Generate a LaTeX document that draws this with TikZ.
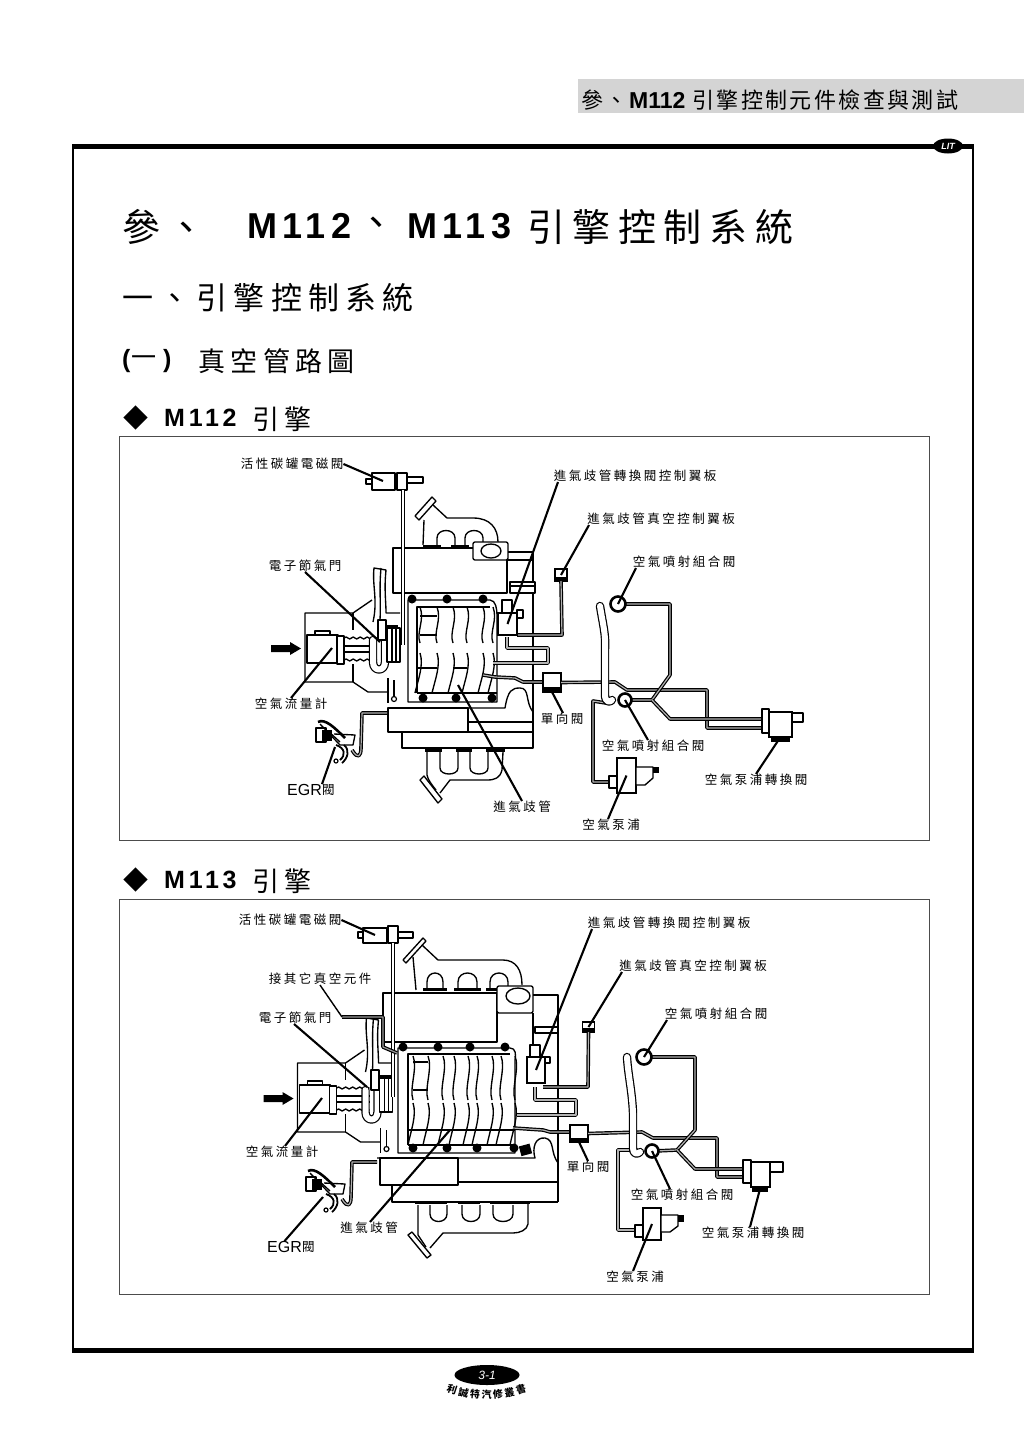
\documentclass[tikz,border=0pt]{standalone}
\usepackage{fontspec}
\setmainfont{Liberation Sans}
\newfontfamily\cjkhead[LetterSpace=11]{Noto Sans CJK TC}
\newfontfamily\cjklabel[LetterSpace=20]{Noto Sans CJK TC}
\newfontfamily\cjktitle[LetterSpace=20]{Noto Sans CJK TC}
\newfontfamily\latintitle[LetterSpace=15]{Liberation Sans}
\newfontfamily\cjkplain{Noto Sans CJK TC}
\usetikzlibrary{decorations.pathmorphing,shapes.geometric}
\tikzset{
  engline/.style={draw=black,line width=1.35pt,line join=round},
  pipe/.style={draw=black,line width=1.2pt,double=black!30,double distance=1.2pt,line join=round},
  tube/.style={draw=black,line width=1.2pt,double=white,double distance=6pt,line join=round,line cap=round},
  part/.style={draw=black,fill=white,line width=1.4pt,inner sep=0pt,outer sep=0pt,rectangle},
  seat/.style={draw=black,fill=white,line width=2.6pt,circle,inner sep=0pt,outer sep=0pt},
  bolt/.style={fill=black,circle,inner sep=0pt,outer sep=0pt,minimum size=9pt},
  leader/.style={draw=black,line width=2.1pt},
  lbl/.style={font=\fontsize{12.5}{13}\cjklabel,inner sep=0pt,text=black},
  titlenode/.style={inner sep=0pt,anchor=west,text=black},
  panel/.style={draw=black!70,line width=0.7pt}
}
% parts drawn the same way for both engines
\newcommand{\airintake}{
  \draw[engline] (372,600)--(353,613)--(305,613)--(305,682)--(353,682)--(368,692)--(388,692);
  \draw[engline] (353,613)--(353,630);
  \draw[engline] (353,664)--(353,682);
  \draw[engline,fill=white] (307,635) rectangle (338,663);
  \draw[engline,fill=white] (315,631) rectangle (330,635);
  \draw[engline,fill=white] (337,636) rectangle (344,664);
  \draw[engline,decorate,decoration={snake,amplitude=1pt,segment length=7pt}] (344,638)--(377,638);
  \draw[engline,decorate,decoration={snake,amplitude=1pt,segment length=7pt}] (344,660)--(377,660);
  \draw[engline] (344,646)--(377,646);
  \draw[engline] (344,652)--(377,652);
  \draw[tube] (373,640)--(373,662) .. controls (373,672) and (385,672) .. (385,662)--(385,640);
  \draw[engline,fill=white] (387,628) rectangle (400,662);
  \draw[engline] (392,628)--(392,662);
  \draw[engline] (396,628)--(396,662);
  \draw[engline,line width=2pt,fill=white] (378,620) rectangle (386,640);
  \draw[engline] (386,626)--(398,626);
  \draw[engline] (373,622) .. controls (378,600) and (372,585) .. (374,568)--(386,570) .. controls (384,590) and (386,600) .. (386,613)--(400,613);
  \draw[engline] (381,568) .. controls (379,590) and (381,600) .. (380,620);
  \draw[engline] (388,678)--(388,703);
  \draw[engline] (394,680)--(394,697);
  \node[seat,line width=1.2pt,minimum size=5pt] (stub) at (394,699) {};
  \fill (271,645)--(290,645)--(290,642)--(301,648.5)--(290,655)--(290,652)--(271,652)--cycle;
}
\newcommand{\egrvalve}{
  \draw[pipe] (352,750) .. controls (358,760) and (361,756) .. (361,748)--(362,713)--(387,713);
  \draw[engline,line width=2.6pt] (318,722) .. controls (325,718) and (335,728) .. (345,738);
  \draw[engline,line width=2.2pt,fill=white] (316,728) rectangle (326,742);
  \draw[engline] (320,724)--(340,745)--(353,745)--(355,735)--(334,734);
  \draw[engline] (328,731)--(340,742);
  \draw[engline,line width=1.8pt] (336,745) .. controls (345,748) and (346,755) .. (340,760);
  \draw[engline,line width=1.8pt] (344,745) .. controls (350,750) and (348,758) .. (342,763);
  \node[seat,line width=1.2pt,minimum size=4pt] (nut) at (336,761) {};
  \fill (322,730) rectangle (332,741);
}
\begin{document}
\begin{tikzpicture}[x=1pt,y=-1pt]
\useasboundingbox (0,0) rectangle (1024,1448);
% Bandeau
\fill[black!17] (578,79) rectangle (1024,113);
\node[titlenode,font=\fontsize{22}{22}\cjkhead] (runa) at (581,100) {參、};
\node[titlenode,font=\fontsize{23}{23}\bfseries] (runb) at (629,100) {M112};
\node[titlenode,font=\fontsize{22}{22}\cjkhead] (runc) at (692,100) {引擎控制元件檢查與測試};
% Cadre
\draw[line width=1.6pt] (73,146)--(73,1350);
\draw[line width=1.6pt] (973,146)--(973,1350);
\draw[line width=5pt] (72,146)--(974,146);
\draw[line width=5pt] (72,1350)--(974,1350);
\node[fill=black,ellipse,minimum width=30pt,minimum height=15pt,inner sep=0pt,text=white,font=\fontsize{9}{9}\bfseries\itshape] (logo) at (948,146) {LIT};
% Titres
\node[titlenode,font=\fontsize{38}{38}\cjktitle] (titlea) at (122,227) {參、};
\node[titlenode,font=\fontsize{36}{38}\bfseries\latintitle] (titleb) at (247,226) {M112};
\node[titlenode,font=\fontsize{38}{38}\cjkplain] (titlec) at (357,227) {、};
\node[titlenode,font=\fontsize{36}{38}\bfseries\latintitle] (titled) at (407,226) {M113};
\node[titlenode,font=\fontsize{38}{38}\cjktitle] (titlee) at (527,227) {引擎控制系統};
\node[titlenode,font=\fontsize{31}{32}\cjktitle] (titlef) at (122,298) {一、引擎控制系統};
\node[titlenode,font=\fontsize{25}{26}\bfseries] (titleg) at (122,361) {(};
\node[titlenode,font=\fontsize{25}{26}\cjkplain] (titleh) at (131,361) {一};
\node[titlenode,font=\fontsize{25}{26}\bfseries] (titlei) at (163,361) {)};
\node[titlenode,font=\fontsize{27}{28}\cjktitle] (titlej) at (198,361) {真空管路圖};
\node[titlenode,font=\fontsize{25}{26}\cjkplain] (marka) at (123,418) {◆};
\node[titlenode,font=\fontsize{25}{26}\bfseries\latintitle] (subaa) at (164,418) {M112};
\node[titlenode,font=\fontsize{27}{28}\cjktitle] (subab) at (252,419) {引擎};
\node[titlenode,font=\fontsize{25}{26}\cjkplain] (markb) at (123,880) {◆};
\node[titlenode,font=\fontsize{25}{26}\bfseries\latintitle] (subba) at (164,880) {M113};
\node[titlenode,font=\fontsize{27}{28}\cjktitle] (subbb) at (252,881) {引擎};
% Panneaux
\draw[panel] (119,436) rectangle (929,840);
\draw[panel] (119,899) rectangle (929,1294);
%%%%%%%% M112
% Collecteur superieur
\draw[engline] (424,520)--(423,545);
\draw[engline] (433,505)--(447,518)--(473,518) .. controls (490,518) and (498,528) .. (498,542);
\draw[engline] (437,545)--(437,538) .. controls (437,528) and (455,528) .. (455,538)--(455,545);
\draw[engline] (465,545)--(465,538) .. controls (465,528) and (483,528) .. (483,538)--(483,545);
\draw[engline,fill=white] (415,516)--(432,497)--(436,501)--(419,520)--cycle;
% Culasse
\draw[engline,fill=white] (393,548) rectangle (507,593);
\fill (423,545) rectangle (441,548);
\fill (451,545) rectangle (469,548);
\draw[engline,rounded corners=2pt,fill=white] (473,542) rectangle (508,560);
\node[draw=black,line width=1.35pt,ellipse,minimum width=20pt,minimum height=14pt,inner sep=0pt] (oila) at (491,551) {};
\draw[engline] (508,552)--(533,552)--(533,748);
\draw[engline] (507,560)--(533,560);
\draw[engline,fill=white] (510,582) rectangle (535,593);
\draw[engline] (510,586)--(535,586);
% Admission M112
\draw[engline] (408,702)--(408,600)--(490,600) .. controls (496,600) and (497,610) .. (497,615)--(497,702)--cycle;
\draw[engline] (417,693)--(417,607)--(490,607);
\draw[engline] (417,693)--(497,693);
\foreach \xa in {420,437,453,467,483,493} {
  \draw[engline] (\xa,607) .. controls (\xa+5,620) and (\xa-4,632) .. (\xa,643);
  \draw[engline] (\xa,653) .. controls (\xa+4,665) and (\xa-2,680) .. (\xa-5,693);
}
\draw[engline] (420,616)--(437,616);
\draw[engline] (420,635)--(437,635);
\draw[engline] (417,668)--(437,668);
\draw[engline] (453,668)--(467,668);
\foreach \xa/\ya [count=\i] in {412/599,447/599,483/599,423/698,456/698,492/698}
  \node[bolt] (bolta\i) at (\xa,\ya) {};
% Bloc inferieur
\draw[engline] (388,708)--(505,708) .. controls (508,690) and (512,688) .. (520,688) .. controls (530,688) and (525,702) .. (533,712);
\draw[engline,fill=white] (388,708) rectangle (468,732);
\draw[engline] (402,732) rectangle (533,748);
\draw[engline] (468,722)--(533,722);
% Collecteur inferieur
\draw[engline] (427,752)--(427,775) .. controls (428,780) and (432,785) .. (436,790);
\draw[engline] (503,752)--(502,770) .. controls (500,778) and (495,780) .. (487,780)--(450,780)--(440,793);
\draw[engline] (440,752)--(440,768) .. controls (440,776) and (458,776) .. (458,768)--(458,752);
\draw[engline] (470,752)--(470,768) .. controls (470,776) and (488,776) .. (488,768)--(488,752);
\fill (425,749) rectangle (442,752);
\fill (456,749) rectangle (472,752);
\fill (486,749) rectangle (505,752);
\draw[engline,fill=white] (420,780)--(424,776)--(442,799)--(438,803)--cycle;
\airintake
\egrvalve
% Tuyaux droite M112
\node[part,minimum width=12pt,minimum height=12pt] (vaca) at (561,575) {};
\fill (555,577) rectangle (567,582);
\draw[pipe] (517,635)--(562,635)--(vaca.south);
\draw[pipe] (507,637)--(507,648)--(548,648)--(548,663)--(493,663);
\draw[pipe] (483,675)--(495,677)--(515,678)--(523,682)--(543,682);
\node[part,minimum width=18pt,minimum height=19pt] (checka) at (552,682.5) {};
\fill (543,687) rectangle (561,692);
\node[part,minimum width=19pt,minimum height=22pt] (ctrla) at (507.5,624) {};
\draw[engline,fill=white] (502,600) rectangle (512,613);
\draw[engline,fill=white] (517,610) rectangle (523,618);
\draw[pipe] (checka.east)--(615,682)--(627,690)--(707,690)--(707,728)--(762,728);
\draw[pipe] (606,703)--(593,701)--(593,782)--(610,782);
\draw[tube] (600,606) .. controls (603,625) and (606,635) .. (605,650)--(605,695) .. controls (605,702) and (610,703) .. (612,700);
\draw[pipe] (624,604)--(670,604)--(670,675)--(652,700)--(630,700);
\draw[pipe] (652,700)--(670,719)--(762,719);
\node[seat,minimum size=15pt] (comboa) at (618,604) {};
\node[seat,minimum size=13pt] (combob) at (625,700) {};
\node[part,minimum width=19pt,minimum height=35pt] (pumpa) at (626.5,775.5) {};
\draw[engline,fill=white] (609,776) rectangle (617,788);
\draw[engline,fill=white] (636,767)--(653,767)--(653,778)--(645,785)--(636,785)--cycle;
\fill (653,767) rectangle (659,773);
\node[part,minimum width=23pt,minimum height=25pt] (switcha) at (780.5,724.5) {};
\draw[engline,fill=white] (762,709) rectangle (769,733);
\draw[engline,fill=white] (792,713) rectangle (803,722);
\fill (771,737) rectangle (790,742);
% Etiquettes M112
\node[lbl] (cana) at (292,464) {活性碳罐電磁閥};
\node[lbl] (ctrllaba) at (635,476) {進氣歧管轉換閥控制翼板};
\node[lbl] (vaclaba) at (661,519) {進氣歧管真空控制翼板};
\node[lbl] (combolaba) at (684,562) {空氣噴射組合閥};
\node[lbl] (thrlaba) at (305,566) {電子節氣門};
\node[lbl] (maflaba) at (291,704) {空氣流量計};
\node[lbl] (checklaba) at (562,719) {單向閥};
\node[lbl] (comblowa) at (653,746) {空氣噴射組合閥};
\node[lbl] (switchlaba) at (756,780) {空氣泵浦轉換閥};
\node[lbl] (manlaba) at (522,807) {進氣歧管};
\node[lbl] (pumplaba) at (611,825) {空氣泵浦};
\node[inner sep=0pt,font=\fontsize{16}{16}\selectfont,text=black,anchor=east] (egrtexta) at (322,790) {EGR};
\node[lbl,anchor=west] (egrlaba) at (322,790) {閥};
% Reperes M112
\draw[engline,fill=white] (372,473) rectangle (395,490);
\draw[engline,fill=white] (366,479) rectangle (372,484);
\draw[engline,fill=white] (397,473) rectangle (407,490);
\draw[engline,fill=white] (407,477) rectangle (423,483);
\draw[pipe,double=white] (403,490)--(403,645);
\coordinate (tipcana) at (383,481);
\coordinate (tipthra) at (380,642);
\coordinate (tipmafa) at (332,648);
\coordinate (tipegra) at (335,747);
\coordinate (tipmana) at (458,685);
\draw[leader] (cana.east)--(tipcana);
\draw[leader] ([xshift=0pt]thrlaba.south)--(tipthra);
\draw[leader] (maflaba.north)--(tipmafa);
\draw[leader] (egrtexta.north east)--(tipegra);
\draw[leader] (manlaba.north)--(tipmana);
\draw[leader] ([xshift=-77pt]ctrllaba.south)--(ctrla.center);
\draw[leader] ([xshift=-72pt]vaclaba.south)--(vaca.center);
\draw[leader] ([xshift=-48pt]combolaba.south)--(comboa.center);
\draw[leader] ([xshift=1pt]checklaba.north)--(checka.south);
\draw[leader] ([xshift=-5pt]comblowa.north)--(combob.center);
\draw[leader] ([xshift=-3pt]pumplaba.north)--(pumpa.center);
\draw[leader] (switchlaba.north)--(switcha.south);
%%%%%%%% M113
% Collecteur superieur
\draw[engline] (413,957)--(416,990);
\draw[engline] (422,945)--(438,960)--(503,960) .. controls (516,960) and (522,970) .. (522,985);
\foreach \xa/\xb in {427/443,458/477,490/508} {
  \draw[engline] (\xa,990)--(\xa,982) .. controls (\xa,970) and (\xb,970) .. (\xb,982)--(\xb,990);
  \fill (\xa-4,988) rectangle (\xb+4,991);
}
\draw[engline,fill=white] (403,960)--(423,938)--(426,941)--(406,963)--cycle;
% Culasse
\draw[engline,fill=white] (383,993) rectangle (497,1042);
\draw[engline,rounded corners=2pt,fill=white] (497,986) rectangle (533,1013);
\node[draw=black,line width=1.35pt,ellipse,minimum width=24pt,minimum height=16pt,inner sep=0pt] (oilb) at (518,996) {};
\draw[engline] (533,995)--(558,995)--(558,1202);
\draw[engline] (535,1027) rectangle (558,1033);
\draw[engline] (533,1013)--(533,1045);
% Admission M113
\draw[engline] (398,1153)--(398,1048)--(510,1048) .. controls (516,1048) and (516,1055) .. (515,1060)--(515,1153)--cycle;
\draw[engline] (408,1145)--(408,1054)--(510,1054);
\draw[engline] (408,1145)--(515,1145);
\foreach \xa in {413,428,443,454,468,477,492,501,515} {
  \draw[engline] (\xa,1056) .. controls (\xa+5,1068) and (\xa-4,1088) .. (\xa,1100);
  \draw[engline] (\xa,1103) .. controls (\xa+4,1115) and (\xa-2,1130) .. (\xa-5,1145);
}
\draw[engline] (413,1062)--(428,1062);
\draw[engline] (413,1090)--(428,1090);
\draw[engline] (408,1130)--(515,1130);
\foreach \xa/\ya [count=\i] in {403/1047,438/1047,470/1047,505/1047,413/1148,447/1148,477/1148,514/1148}
  \node[bolt] (boltb\i) at (\xa,\ya) {};
\fill[rotate around={15:(525,1150)}] (520,1145) rectangle (531,1155);
% Bloc inferieur
\draw[engline] (377,1158)--(535,1158) .. controls (532,1148) and (535,1137) .. (545,1138) .. controls (555,1140) and (550,1152) .. (558,1163);
\draw[engline,fill=white] (380,1158) rectangle (458,1185);
\draw[engline] (392,1185)--(392,1202)--(558,1202);
\draw[engline] (458,1182)--(558,1182);
% Collecteur inferieur
\draw[engline] (418,1205)--(418,1235)--(426,1247);
\draw[engline] (528,1202)--(528,1224) .. controls (527,1230) and (520,1233) .. (513,1233)--(443,1233)--(430,1248);
\foreach \xa/\xb in {430/447,462/480,493/513} {
  \draw[engline] (\xa,1205)--(\xa,1214) .. controls (\xa,1224) and (\xb,1224) .. (\xb,1214)--(\xb,1205);
}
\foreach \xa/\xb in {415/447,458/480,490/513,510/530}
  \fill (\xa,1201) rectangle (\xb,1204);
\draw[engline,fill=white] (408,1235)--(412,1232)--(431,1255)--(427,1258)--cycle;
\begin{scope}[shift={(-7.5,450)}]
\airintake
\end{scope}
\begin{scope}[shift={(-10,449)}]
\egrvalve
\end{scope}
% Tuyaux droite M113
\node[part,minimum width=12pt,minimum height=10pt] (vacb) at (588.5,1027) {};
\fill (582,1028) rectangle (595,1032);
\draw[pipe] (543,1087)--(588,1087)--(vacb.south);
\draw[pipe] (535,1087)--(535,1100)--(576,1100)--(576,1115)--(517,1115);
\draw[pipe] (513,1128)--(543,1130)--(550,1132)--(570,1132);
\node[part,minimum width=18pt,minimum height=17pt] (checkb) at (579,1133.5) {};
\fill (570,1138) rectangle (588,1142);
\node[part,minimum width=18pt,minimum height=26pt] (ctrlb) at (536,1070) {};
\draw[engline,fill=white] (530,1045) rectangle (540,1057);
\draw[engline,fill=white] (545,1057) rectangle (550,1063);
\draw[pipe] (checkb.east)--(642,1132)--(653,1138)--(717,1138)--(717,1177)--(742,1177);
\draw[pipe] (632,1150)--(618,1150)--(618,1230)--(635,1230);
\draw[tube] (627,1057) .. controls (628,1075) and (632,1090) .. (633,1113)--(633,1148) .. controls (633,1154) and (637,1155) .. (640,1152);
\draw[pipe] (650,1057)--(695,1057)--(695,1130)--(677,1150)--(655,1151);
\draw[pipe] (677,1150)--(695,1169)--(742,1169);
\node[seat,minimum size=15pt] (combod) at (644,1057) {};
\node[seat,minimum size=13pt] (comboe) at (652,1151) {};
\node[part,minimum width=18pt,minimum height=32pt] (pumpb) at (652,1224) {};
\draw[engline,fill=white] (635,1225) rectangle (643,1237);
\draw[engline,fill=white] (661,1215)--(678,1215)--(678,1226)--(670,1232)--(661,1232)--cycle;
\fill (678,1215) rectangle (684,1222);
\node[part,minimum width=19pt,minimum height=25pt] (switchb) at (760.5,1174.5) {};
\draw[engline,fill=white] (743,1160) rectangle (751,1183);
\draw[engline,fill=white] (770,1162) rectangle (783,1172);
\fill (752,1187) rectangle (768,1192);
% Etiquettes M113
\node[lbl] (canb) at (290,920) {活性碳罐電磁閥};
\node[lbl] (ctrllabb) at (669,923) {進氣歧管轉換閥控制翼板};
\node[lbl] (vaclabb) at (693,966) {進氣歧管真空控制翼板};
\node[lbl] (combolabb) at (716,1014) {空氣噴射組合閥};
\node[lbl] (extlab) at (320,979) {接其它真空元件};
\node[lbl] (thrlabb) at (295,1018) {電子節氣門};
\node[lbl] (maflabb) at (282,1152) {空氣流量計};
\node[lbl] (checklabb) at (588,1167) {單向閥};
\node[lbl] (comblowb) at (682,1195) {空氣噴射組合閥};
\node[lbl] (switchlabb) at (753,1233) {空氣泵浦轉換閥};
\node[lbl] (manlabb) at (369,1228) {進氣歧管};
\node[lbl] (pumplabb) at (635,1277) {空氣泵浦};
\node[inner sep=0pt,font=\fontsize{16}{16}\selectfont,text=black,anchor=east] (egrtextb) at (302,1247) {EGR};
\node[lbl,anchor=west] (egrlabb) at (302,1247) {閥};
% Reperes M113
\draw[engline,fill=white] (363,928) rectangle (387,943);
\draw[engline,fill=white] (358,932) rectangle (363,938);
\draw[engline,fill=white] (388,926) rectangle (398,943);
\draw[engline,fill=white] (398,932) rectangle (413,938);
\draw[pipe,double=white] (393,943)--(393,1097);
\coordinate (vacport) at (342,1017);
\draw[pipe,double=black!40] (vacport)--(383,1017)--(383,1047)--(397,1053);
\coordinate (tipcanb) at (375,935);
\coordinate (tipthrb) at (367,1087);
\coordinate (tipmafb) at (322,1098);
\coordinate (tipegrb) at (323,1197);
\coordinate (tipmanb) at (450,1130);
\draw[leader] (canb.east)--(tipcanb);
\draw[leader] ([xshift=-1pt]thrlabb.south)--(tipthrb);
\draw[leader] ([xshift=3pt]maflabb.north)--(tipmafb);
\draw[leader] (egrtextb.north)--(tipegrb);
\draw[leader] ([xshift=1pt]manlabb.north)--(tipmanb);
\draw[leader] ([xshift=-77pt]ctrllabb.south)--(ctrlb.center);
\draw[leader] ([xshift=-71pt]vaclabb.south)--(vacb.center);
\draw[leader] ([xshift=-49pt]combolabb.south)--(combod.center);
\draw[leader] (checklabb.north)--(checkb.south);
\draw[leader] ([xshift=-12pt]comblowb.north)--(comboe.center);
\draw[leader] ([xshift=-2pt]pumplabb.north)--(pumpb.center);
\draw[leader] ([xshift=-3pt]switchlabb.north)--(switchb.south);
\draw[leader,line width=1.4pt] ([xshift=0pt]extlab.south)--(vacport);
% Pied de page
\node[fill=black,ellipse,minimum width=65pt,minimum height=20pt,inner sep=0pt,text=white,font=\fontsize{12}{12}\itshape] (badge) at (487,1375) {3-1};
\foreach \ch [count=\i] in {利,誠,特,汽,修,叢,書}
  \node[inner sep=0pt,font=\fontsize{10}{10}\cjkplain\bfseries,rotate={-18+6*(\i-1)}] (foot\i) at ({452+11.5*(\i-1)},{1395-0.6*(\i-4)*(\i-4)}) {\ch};
\end{tikzpicture}
\end{document}
